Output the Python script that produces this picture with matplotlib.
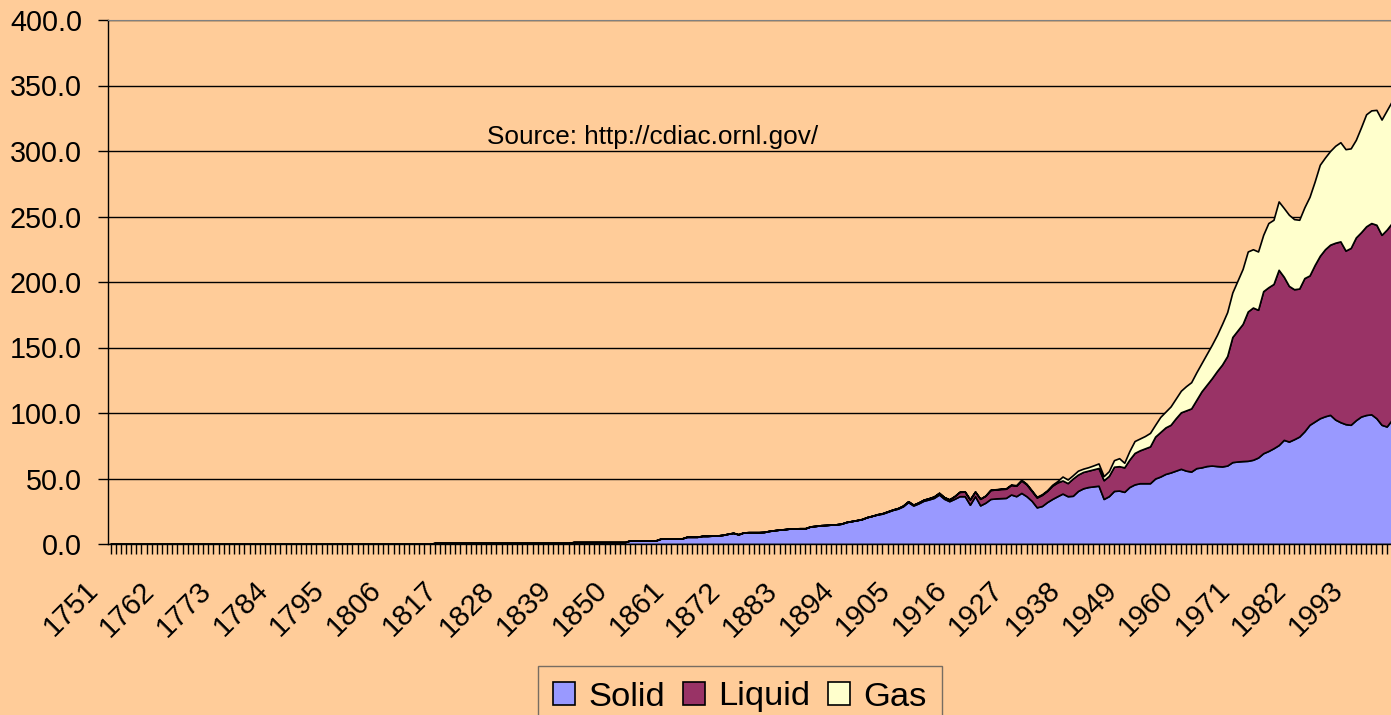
import matplotlib
matplotlib.use("Agg")
import matplotlib.pyplot as plt
from matplotlib.ticker import FormatStrFormatter
from matplotlib.transforms import ScaledTranslation
import numpy as np

plt.rcParams['font.family'] = ['Liberation Sans', 'DejaVu Sans']

# years 1751..2001 (chart is cropped on the right, around 2000)
years = list(range(1751, 2002))

solid = ([0.0] * 63 + [0.8] * 27 + [1.5] * 11 + [2.8] * 6 + [4.2] * 5 + [5.5] * 3 +
         [6.2, 6.2, 6.4, 6.5, 7.0, 7.8, 8.5, 7.4, 8.8, 9.0,
          9.0, 9.0, 9.2, 10.0, 10.5, 11.0, 11.3, 11.8, 11.9, 12.0,
          12.0, 13.4, 13.8, 14.3, 14.5, 14.8, 15.0, 15.5, 16.8, 17.5,
          18.2, 19.0, 20.5, 21.5] +
         [22.5, 23.2, 24.6, 26.0, 27.0, 28.8, 32.0, 29.4, 31.0, 33.0,
          34.0, 35.2, 37.8, 34.5, 32.7, 34.5, 36.5, 36.5, 30.0, 36.5,
          29.5, 31.5, 34.4, 34.8, 35.0, 35.2, 37.8, 36.5, 39.0, 36.5,
          33.0, 28.0, 29.0, 32.0, 34.4, 36.5, 38.5, 36.5, 36.8, 40.5,
          42.5, 43.5, 44.0, 44.5, 34.4, 36.5, 40.5, 40.8, 39.8, 43.5,
          45.5, 46.4, 46.4, 46.4, 50.0, 51.5, 53.5, 54.6, 56.0, 57.4,
          56.0, 55.3, 57.9, 58.5, 59.5, 59.9, 59.5, 59.2, 59.9, 62.5,
          63.0, 63.3, 63.5, 64.3, 66.0, 69.3, 71.0, 73.1, 75.5, 79.5,
          78.2, 80.0, 82.0, 86.0, 91.0, 93.5, 96.0, 97.5, 98.6, 95.0,
          93.0, 91.5, 91.0, 94.5, 97.3, 98.5, 99.0, 96.0, 91.0, 89.7,
          94.8, 96.0])

liquid = ([0.0] * 149 +
          [0.2, 0.3, 0.3, 0.3, 0.4, 0.5, 0.6, 0.6, 0.7, 0.8,
           0.9, 1.0, 1.2, 1.2, 1.3, 2.0, 3.3, 3.5, 4.0, 3.5,
           5.0, 5.3, 6.8, 6.8, 7.0, 7.0, 7.2, 8.0, 9.5, 9.0,
           7.5, 7.5, 8.5, 8.5, 10.1, 10.5, 10.0, 10.0, 13.2, 12.5,
           12.5, 12.5, 13.0, 13.5, 14.3, 15.5, 18.5, 18.6, 18.7, 21.0,
           24.0, 25.1, 26.6, 28.1, 32.0, 34.0, 35.5, 36.4, 40.0, 43.1,
           46.0, 48.2, 52.1, 58.0, 62.0, 66.6, 72.5, 77.8, 83.6, 95.5,
           100.0, 104.7, 114.0, 116.2, 112.8, 123.7, 125.0, 125.4, 133.8, 124.5,
           118.8, 114.5, 113.0, 117.0, 114.0, 119.5, 124.0, 127.5, 129.9, 135.0,
           138.0, 132.5, 135.0, 139.5, 140.7, 144.0, 146.0, 147.7, 145.0, 150.3,
           150.2, 151.0])

gas = ([0.0] * 160 +
       [0.1, 0.1, 0.1, 0.1, 0.1, 0.1, 0.1, 0.1, 0.1,
        0.1, 0.1, 0.2, 0.2, 0.2, 0.3, 0.4, 0.4, 0.5, 0.5,
        0.5, 0.5, 0.5, 0.5, 0.7, 1.0, 3.0, 2.7, 2.5, 3.0,
        2.5, 2.6, 3.0, 3.5, 3.1, 3.6, 5.0, 6.1, 3.5, 6.5,
        9.1, 9.0, 9.4, 10.3, 9.0, 11.5, 12.0, 14.0, 15.0, 16.5,
        18.5, 20.0, 21.0, 21.5, 23.5, 25.5, 27.5, 31.0, 33.5, 34.0,
        38.0, 42.0, 45.8, 44.5, 44.5, 43.0, 49.0, 49.0, 52.2, 52.5,
        54.3, 53.5, 52.5, 54.0, 60.0, 63.7, 69.5, 70.0, 71.5, 74.0,
        75.7, 77.4, 76.0, 74.5, 80.0, 85.5, 86.0, 87.7, 88.0, 91.0,
        93.0, 94.0])

series_names = ["Solid", "Liquid", "Gas"]
colors = ["#9999FF", "#993366", "#FFFFCC"]
bg = "#FFCC99"

fig = plt.figure(figsize=(13.91, 7.15), dpi=100, facecolor=bg)
# plot area runs past the right edge, like the cropped original
ax = fig.add_axes([108 / 1391, 171 / 715, 1307 / 1391, 524 / 715])
ax.set_facecolor(bg)

polys = ax.stackplot(years, solid, liquid, gas, colors=colors,
                     edgecolor="black", linewidth=1.2, labels=series_names)

ax.set_xlim(1750.5, 2004.5)
ax.set_ylim(0, 400)
ax.set_yticks(np.arange(0, 401, 50))
ax.yaxis.set_major_formatter(FormatStrFormatter("%.1f"))
ax.yaxis.grid(True, color="black", linewidth=1)
ax.set_axisbelow(True)

tick_years = np.arange(1751, 2005)
ax.set_xticks(tick_years)
ax.set_xticklabels([str(y) if (y - 1751) % 11 == 0 and y < 2000 else "" for y in tick_years],
                   rotation=45, ha="right", va="center", rotation_mode="anchor")
ax.tick_params(axis="x", length=7.2, width=1, pad=0, labelsize=21)
ax.tick_params(axis="y", length=7.2, width=1, pad=11.5, labelsize=20.7)
shift = ScaledTranslation(-17 / 100, -32 / 100, fig.dpi_scale_trans)
for lab in ax.get_xticklabels():
    lab.set_transform(lab.get_transform() + shift)

for side in ["left", "bottom"]:
    ax.spines[side].set_color("black")
    ax.spines[side].set_linewidth(1)
ax.spines["top"].set_color("#808080")
ax.spines["right"].set_visible(False)

fig.text(487 / 1391, 1 - 144 / 715, "Source: http://cdiac.ornl.gov/",
         fontsize=18.8, va="baseline", ha="left")

leg = fig.legend(polys, series_names, loc="upper center",
                 bbox_to_anchor=(740 / 1391, 1 - 666 / 715), ncol=3,
                 fontsize=24.8, frameon=True, fancybox=False, borderaxespad=0,
                 handlelength=0.64, handleheight=0.64, handletextpad=0.38,
                 columnspacing=0.52, borderpad=0.45)
leg.get_frame().set_facecolor(bg)
leg.get_frame().set_edgecolor("#555555")
leg.get_frame().set_linewidth(1)

fig.savefig("out.png", dpi=100, facecolor=bg)
